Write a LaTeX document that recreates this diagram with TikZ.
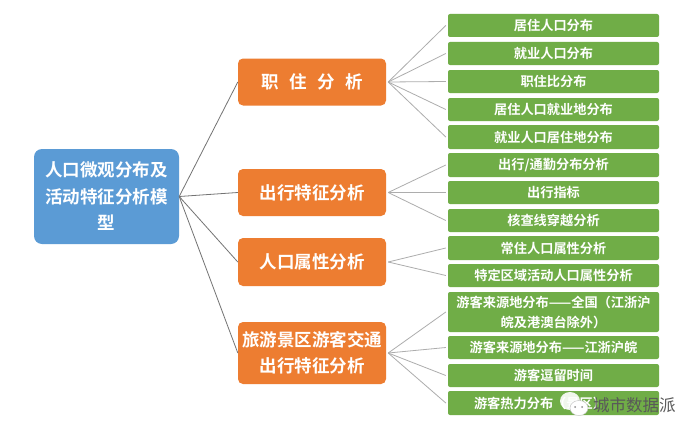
\documentclass[tikz,border=0pt]{standalone}
\usepackage{fontspec}
\setmainfont{Noto Sans CJK SC}[BoldFont={Noto Sans CJK SC Bold}]
\definecolor{bluebox}{HTML}{5B9BD5}
\definecolor{orangebox}{HTML}{ED7D31}
\definecolor{greenbox}{HTML}{70AD47}
\tikzset{
 rootbox/.style={draw=none,fill=bluebox,rounded corners=8pt,text=white,font=\fontsize{17.5}{26.5}\selectfont\bfseries,align=center,minimum width=145pt,minimum height=95pt,text width=135pt,inner sep=0pt},
 midbox/.style={draw=none,fill=orangebox,rounded corners=5pt,text=white,font=\fontsize{17.5}{26}\selectfont\bfseries,align=center,minimum width=148pt,inner sep=0pt},
 leaf/.style={draw=none,fill=greenbox,rounded corners=2pt,text=white,font=\fontsize{13.2}{20}\selectfont\bfseries,align=center,minimum width=211pt,inner sep=0pt},
 linkA/.style={draw=black!55,line width=0.8pt},
 linkB/.style={draw=black!32,line width=0.8pt},
}
\begin{document}
\begin{tikzpicture}[x=1pt,y=-1pt]
\useasboundingbox (0,0) rectangle (700,436);
\fill[white] (0,0) rectangle (700,436);
\node[rootbox] (root) at (106.5,196.5) {人口微观分布及\\活动特征分析模\\型};
\node[midbox,minimum height=47pt] (m1) at (312,82) {职\hspace{10.5pt}住\hspace{10.5pt}分\hspace{10.5pt}析};
\node[midbox,minimum height=47pt] (m2) at (312,192.5) {出行特征分析};
\node[midbox,minimum height=48pt] (m3) at (312,262) {人口属性分析};
\node[midbox,minimum height=62pt] (m4) at (312,353) {旅游景区游客交通\\出行特征分析};
\node[leaf,minimum height=23pt] (a1) at (553.5,25.5) {居住人口分布};
\node[leaf,minimum height=23pt] (a2) at (553.5,53.5) {就业人口分布};
\node[leaf,minimum height=23pt] (a3) at (553.5,81.5) {职住比分布};
\node[leaf,minimum height=23pt] (a4) at (553.5,109.5) {居住人口就业地分布};
\node[leaf,minimum height=24pt] (a5) at (553.5,137) {就业人口居住地分布};
\node[leaf,minimum height=24pt] (b1) at (553.5,165) {出行/通勤分布分析};
\node[leaf,minimum height=23pt] (b2) at (553.5,192.5) {出行指标};
\node[leaf,minimum height=23pt] (b3) at (553.5,220.5) {核查线穿越分析};
\node[leaf,minimum height=24pt] (c1) at (553.5,248) {常住人口属性分析};
\node[leaf,minimum height=23pt] (c2) at (553.5,275.5) {特定区域活动人口属性分析};
\node[leaf,minimum height=40pt] (d1) at (553.5,312) {游客来源地分布——全国（江浙沪\\皖及港澳台除外）};
\node[leaf,minimum height=23pt] (d2) at (553.5,347.5) {游客来源地分布——江浙沪皖};
\node[leaf,minimum height=23pt] (d3) at (553.5,375.5) {游客逗留时间};
\node[leaf,minimum height=24pt] (d4) at (553.5,403) {游客热力分布（景区）\hspace{27pt}};
\foreach \t in {m1,m2,m3,m4} \draw[linkA] (root.east) -- (\t.west);
\foreach \t in {a1,a2,a3,a4,a5} \draw[linkB] ([xshift=2pt]m1.east) -- ([xshift=-2pt]\t.west);
\foreach \t in {b1,b2,b3} \draw[linkB] ([xshift=2pt]m2.east) -- ([xshift=-2pt]\t.west);
\foreach \t in {c1,c2} \draw[linkB] ([xshift=2pt]m3.east) -- ([xshift=-2pt]\t.west);
\foreach \t in {d1,d2,d3,d4} \draw[linkB] ([xshift=2pt]m4.east) -- ([xshift=-2pt]\t.west);
% watermark
\fill[white,opacity=.9] (570,401) ellipse (10 and 9);
\fill[white,draw=black!25,line width=.4pt] (579,408) ellipse (9 and 7.5);
\fill[black!45] (575,407) circle (1) (582,407) circle (1);
\node[text=black!65,font=\fontsize{16.5}{16.5}\selectfont,anchor=west,inner sep=0pt] (wm) at (593,405) {城市数据派};
\end{tikzpicture}
\end{document}
